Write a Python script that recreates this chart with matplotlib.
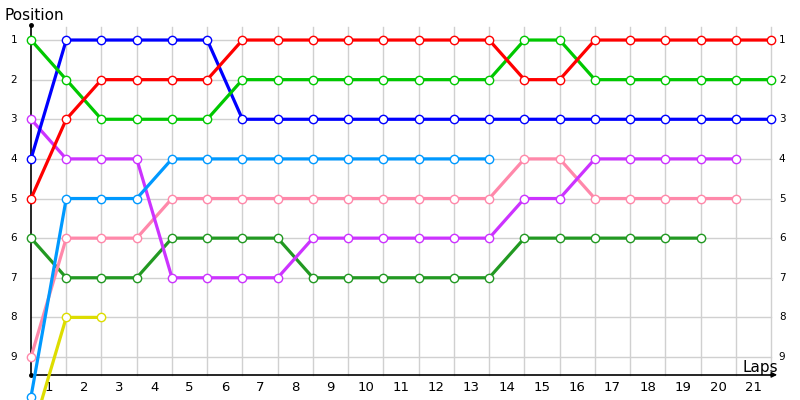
import matplotlib.pyplot as plt
import numpy as np

laps = list(range(22))
bottom_labels = [str(k) for k in range(1, 22)]
positions = list(range(1, 10))

# position per lap for each car (lines may start below the visible area)
red = [5, 3, 2, 2, 2, 2, 1, 1, 1, 1, 1, 1, 1, 1, 2, 2, 1, 1, 1, 1, 1, 1]
lime = [1, 2, 3, 3, 3, 3, 2, 2, 2, 2, 2, 2, 2, 2, 1, 1, 2, 2, 2, 2, 2, 2]
blue = [4, 1, 1, 1, 1, 1, 3, 3, 3, 3, 3, 3, 3, 3, 3, 3, 3, 3, 3, 3, 3, 3]
sky = [10, 5, 5, 5, 4, 4, 4, 4, 4, 4, 4, 4, 4, 4]
purple = [3, 4, 4, 4, 7, 7, 7, 7, 6, 6, 6, 6, 6, 6, 5, 5, 4, 4, 4, 4, 4]
pink = [9, 6, 6, 6, 5, 5, 5, 5, 5, 5, 5, 5, 5, 5, 4, 4, 5, 5, 5, 5, 5]
dgreen = [6, 7, 7, 7, 6, 6, 6, 6, 7, 7, 7, 7, 7, 7, 6, 6, 6, 6, 6, 6]
yellow = [11, 8, 8]

series = [
    (yellow, '#dddd00'),
    (dgreen, '#229922'),
    (pink, '#ff88aa'),
    (purple, '#cc33ff'),
    (sky, '#0099ff'),
    (blue, '#0000ff'),
    (lime, '#00c800'),
    (red, '#ff0000'),
]

fig = plt.figure(figsize=(8, 4), dpi=100)
ax = fig.add_axes([0, 0, 1, 1])
ax.set_xlim(-0.88, 21.82)
ax.set_ylim(10.085, -0.01)
ax.axis('off')

last = laps[-1]
y_top, y_axis = 0.62, 9.45

# grid
for p in positions:
    ax.plot([0, last], [p, p], color='#d0d0d0', lw=1, zorder=1)
for lap in laps[1:]:
    ax.plot([lap, lap], [y_top + 0.05, y_axis], color='#d0d0d0', lw=1, zorder=1)

# axes
ax.plot([0, 0], [y_top, y_axis], color='black', lw=1.2, zorder=2)
ax.plot([0, last + 0.05], [y_axis, y_axis], color='black', lw=1.2, zorder=2)
ax.plot([0, 0], [y_top, y_axis], 'o', color='black', ms=2.5, zorder=2)
ax.annotate('', xy=(last + 0.25, y_axis), xytext=(last - 0.1, y_axis),
            arrowprops=dict(arrowstyle='-|>', color='black', lw=1.0,
                            mutation_scale=8), zorder=2)

# tick labels
for p in positions:
    ax.text(-0.49, p, str(p), ha='center', va='center', fontsize=7.5)
    ax.text(last + 0.22, p, str(p), ha='left', va='center', fontsize=7.5)
for k, lab in enumerate(bottom_labels):
    ax.text(k + 0.5, y_axis + 0.33, lab, ha='center', va='center', fontsize=9.5)

ax.text(-0.75, 0.37, 'Position', ha='left', va='center', fontsize=11)
ax.text(last + 0.2, y_axis - 0.18, 'Laps', ha='right', va='center', fontsize=11)

for vals, c in series:
    ax.plot(range(len(vals)), vals, color=c, lw=2.3, marker='o', ms=6,
            mfc='white', mec=c, mew=1.0, zorder=3, clip_on=False)

fig.savefig('out.png', dpi=100)
